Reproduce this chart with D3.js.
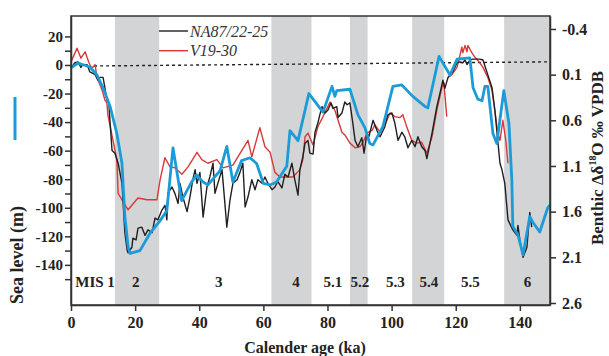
<!DOCTYPE html>
<html>
<head>
<meta charset="utf-8">
<script src="https://cdn.jsdelivr.net/npm/d3@7/dist/d3.min.js"></script>
<style>
  html, body { margin: 0; padding: 0; background: #fff; }
  svg { display: block; font-family: "Liberation Serif", "Times New Roman", serif; }
</style>
</head>
<body>
<svg id="chart" width="609" height="356"></svg>
<script>
// Glacial stages (ka) shaded in grey
const bands = [[13.7, 27.5], [62.5, 75], [87, 92.5], [106.4, 116.4], [135.1, 149.4]];

// Stage labels [age, text]
const stageLabels = [
  [7.5, "MIS 1"], [20.2, "2"], [46.1, "3"], [70.2, "4"], [81.7, "5.1"],
  [90.1, "5.2"], [101.2, "5.3"], [111.6, "5.4"], [124.6, "5.5"], [142.4, "6"]
];

// Sea level curve (m) [age ka, sea level]
const seaLevel = [
  [0, -2], [2.2, 1.4], [5.9, -1.4], [8.1, -7], [10.0, -16], [12.2, -29], [14.3, -48],
  [15.9, -69], [16.8, -106], [17.8, -127], [18.4, -132], [21.5, -130], [24.6, -118],
  [27.8, -109], [29.9, -102], [31.8, -58], [34.5, -95], [37.6, -82], [39.2, -77],
  [41.2, -82], [42.7, -84], [46.5, -74], [48.6, -57], [50.5, -82], [53.2, -67],
  [55.8, -65], [57.9, -69], [60.0, -83], [62.1, -84], [64.1, -82], [67.3, -71],
  [68.3, -46], [70.8, -53], [74.2, -20], [78.6, -33], [81.4, -15], [82.3, -22],
  [82.9, -18], [87.0, -17], [89.5, -35], [91.7, -44], [93.2, -55], [94.2, -56],
  [97.3, -43], [100.4, -15], [103.2, -14], [106.6, -22], [110.4, -29], [111.3, -30],
  [114.8, 6], [118.2, -7], [120.4, 4], [124.4, 5], [125.4, -16], [126.9, -24],
  [128.2, -25], [129.1, -15], [130.0, -15], [131.6, -48], [132.8, -55], [135.0, -18],
  [136.6, -41], [137.5, -81], [137.8, -113], [139.4, -119], [141.0, -133], [143.1, -106],
  [144.0, -110], [146.2, -117], [148.7, -100], [149.4, -98]
];

// NA87/22-25 benthic d18O anomaly [age ka, permil]
const na87 = [
  [0, 0.03], [1.2, -0.03], [2.2, -0.04], [3.1, 0.02], [3.7, -0.01], [5.0, -0.01],
  [5.9, 0.07], [7.5, 0.10], [8.4, 0.16], [9.0, 0.13], [10.0, 0.13], [10.6, 0.25],
  [11.2, 0.38], [11.8, 0.41], [12.2, 0.63], [12.8, 0.93], [13.7, 0.96], [14.7, 1.07],
  [15.9, 1.29], [16.8, 1.83], [17.5, 2.02], [17.8, 2.05], [19.0, 1.99], [19.3, 1.89],
  [20.3, 1.91], [20.9, 1.78], [22.1, 1.77], [23.1, 1.86], [24.0, 1.80], [25.3, 1.83],
  [26.2, 1.67], [27.1, 1.69], [28.4, 1.58], [29.3, 1.53], [29.9, 1.69], [30.2, 1.40],
  [31.5, 1.33], [32.4, 1.40], [33.4, 1.51], [34.0, 1.29], [34.9, 1.44], [36.2, 1.60],
  [37.1, 1.44], [38.0, 1.25], [38.7, 1.14], [39.3, 1.29], [40.2, 1.17], [41.2, 1.66],
  [42.4, 1.33], [43.3, 1.22], [44.3, 1.07], [44.9, 1.40], [45.8, 1.29], [47.1, 1.14],
  [48.0, 1.51], [48.6, 1.77], [49.6, 1.47], [50.5, 1.29], [51.8, 1.25], [52.7, 1.17],
  [53.6, 1.07], [54.3, 1.55], [55.2, 1.44], [56.4, 1.25], [57.4, 1.36], [58.3, 1.25],
  [59.6, 1.29], [60.5, 1.22], [61.4, 1.29], [62.7, 1.36], [63.6, 1.33], [64.5, 1.27],
  [65.8, 1.34], [66.7, 1.19], [67.7, 1.22], [68.9, 1.07], [69.8, 1.25], [70.8, 1.42],
  [71.4, 1.14], [72.3, 1.00], [73.0, 0.85], [73.9, 0.82], [74.5, 0.96], [75.5, 0.97],
  [76.1, 0.73], [77.0, 0.63], [77.6, 0.54], [78.3, 0.45], [79.2, 0.52], [80.1, 0.49],
  [81.1, 0.41], [81.7, 0.47], [82.9, 0.45], [83.3, 0.57], [84.5, 0.52], [85.4, 0.40],
  [86.1, 0.43], [87.0, 0.41], [87.9, 0.63], [88.6, 0.82], [89.5, 0.89], [90.7, 0.79],
  [91.4, 0.96], [92.3, 0.74], [92.9, 0.78], [94.2, 0.60], [95.4, 0.71], [96.4, 0.78],
  [97.9, 0.67], [98.8, 0.54], [100.1, 0.52], [101.0, 0.63], [102.0, 0.82], [103.2, 0.73],
  [104.1, 0.78], [105.1, 0.90], [106.3, 0.82], [107.3, 0.89], [108.2, 0.78], [109.4, 0.89],
  [110.4, 0.93], [111.0, 1.02], [112.6, 0.74], [114.1, 0.45], [115.1, 0.30], [116.0, 0.16],
  [116.6, 0.25], [117.6, 0.13], [119.1, 0.07], [120.4, -0.03], [121.3, -0.04], [122.2, -0.03],
  [122.9, -0.06], [123.5, -0.01], [124.4, -0.06], [125.4, -0.07], [127.5, -0.07], [128.5, -0.06],
  [129.7, 0.07], [131.3, 0.24], [132.2, 0.49], [133.1, 0.82], [133.8, 1.07], [134.4, 1.14],
  [135.3, 1.29], [136.3, 1.69], [137.8, 1.80], [139.1, 1.86], [139.4, 1.75], [140.0, 1.91],
  [141.0, 2.10], [142.2, 1.99], [143.1, 1.61], [143.7, 1.77]
];

// V19-30 benthic d18O anomaly [age ka, permil]; null = gap in record
const v1930 = [
  [0, -0.04], [1.9, -0.19], [3.1, -0.08], [4.4, -0.15], [5.6, -0.03], [6.5, 0.03],
  [7.5, -0.01], [8.1, 0.13], [9.7, 0.27], [10.6, 0.38], [11.2, 0.41], [11.5, 0.54],
  [13.1, 0.82], [14.3, 1.03], [14.7, 1.40], [17.8, 1.58], [20.9, 1.45], [23.7, 1.47],
  [26.8, 1.47], [27.8, 1.25], [29.3, 1.01], [30.9, 1.11], [32.4, 1.12], [34.6, 1.19],
  [36.5, 1.11], [39.3, 0.95], [40.8, 1.03], [42.7, 1.07], [45.5, 1.03], [47.4, 1.12],
  [50.5, 1.09], [53.3, 0.93], [55.2, 0.82], [56.4, 1.00], [58.9, 0.68], [60.5, 0.89],
  [62.1, 0.95], [63.6, 1.17], [65.2, 1.22], [69.2, 1.22], [71.4, 1.14], [72.3, 1.03],
  [73.0, 0.78], [73.9, 0.74], [75.5, 0.87], [77.0, 0.67], [78.6, 0.56], [80.8, 0.40],
  [82.3, 0.49], [83.3, 0.60], [84.5, 0.73], [85.4, 0.76], [87.0, 0.85], [88.6, 0.90],
  [90.1, 0.89], [91.1, 0.84], [92.3, 0.74], [93.9, 0.71], [94.8, 0.65], [96.4, 0.73],
  [97.9, 0.65], [99.5, 0.52], [101.0, 0.56], [102.6, 0.57], [103.5, 0.54], [104.8, 0.68],
  [106.3, 0.82], [107.9, 0.85], [109.4, 0.84], [111.0, 0.96], [112.6, 0.78], [114.1, 0.49],
  [115.7, 0.24], [116.3, 0.19], [117.2, 0.56], [117.4, null],
  [117.6, 0.13], [118.8, 0.10], [120.4, 0.02], [121.3, -0.11], [121.9, -0.20], [122.2, -0.14],
  [122.9, -0.22], [123.5, -0.15], [123.8, -0.22], [125.0, -0.14], [126.0, -0.09], [127.5, -0.03],
  [128.5, 0.02], [130.0, 0.13], [131.3, 0.27], [132.2, 0.49], [133.1, 0.74], [133.8, 0.82],
  [134.7, 0.60], [135.6, 0.82], [136.3, 1.07]
];

// Present-day sea level reference (dotted)
const zeroLine = [[7.2, -0.7], [149.4, 2.2]];

const xTicks = [0, 20, 40, 60, 80, 100, 120, 140];
const slTicks = d3.range(-150, 21, 10);
const o18Ticks = [-0.4, 0.1, 0.6, 1.1, 1.6, 2.1, 2.6];

const svg = d3.select("#chart");
const plotL = 71, plotR = 550, plotT = 16, plotB = 305;

const x = d3.scaleLinear().domain([0, 149.4]).range([plotL, plotR]);
const ySL = d3.scaleLinear().domain([-168.1, 34.3]).range([plotB, plotT]);
const yO = d3.scaleLinear().domain([2.622, -0.542]).range([plotB, plotT]);

// shaded stages
svg.append("g").selectAll("rect").data(bands).join("rect")
  .attr("x", d => x(d[0]))
  .attr("width", d => x(d[1]) - x(d[0]))
  .attr("y", plotT)
  .attr("height", plotB - plotT)
  .attr("fill", "#d3d4d6");

// stage labels
svg.append("g").selectAll("text").data(stageLabels).join("text")
  .attr("x", d => x(d[0]))
  .attr("y", 287)
  .attr("text-anchor", "middle")
  .attr("font-size", 15)
  .attr("font-weight", "bold")
  .attr("fill", "#222")
  .text(d => d[1]);

// dotted zero line
svg.append("path")
  .datum(zeroLine)
  .attr("fill", "none")
  .attr("stroke", "#222")
  .attr("stroke-width", 1.4)
  .attr("stroke-dasharray", "3,3")
  .attr("d", d3.line().x(d => x(d[0])).y(d => ySL(d[1])));

const lineO = d3.line()
  .defined(d => d[1] !== null)
  .x(d => x(d[0]))
  .y(d => yO(d[1]));
const lineSL = d3.line().x(d => x(d[0])).y(d => ySL(d[1]));

svg.append("path").datum(v1930)
  .attr("fill", "none").attr("stroke", "#d8393b").attr("stroke-width", 1.4)
  .attr("stroke-linejoin", "round").attr("d", lineO);
svg.append("path").datum(na87)
  .attr("fill", "none").attr("stroke", "#231f20").attr("stroke-width", 1.4)
  .attr("stroke-linejoin", "round").attr("d", lineO);
svg.append("path").datum(seaLevel)
  .attr("fill", "none").attr("stroke", "#1b9bd7").attr("stroke-width", 2.8)
  .attr("stroke-linejoin", "round").attr("d", lineSL);

// frame
svg.append("rect")
  .attr("x", plotL).attr("y", plotT)
  .attr("width", plotR - plotL).attr("height", plotB - plotT)
  .attr("fill", "none").attr("stroke", "#333").attr("stroke-width", 1.5);

function styleAxis(g, size) {
  g.select(".domain").attr("stroke", "#333").attr("stroke-width", 1.5);
  g.selectAll(".tick line").attr("stroke", "#333").attr("stroke-width", 1.5);
  g.selectAll(".tick text")
    .attr("fill", "#222")
    .attr("font-size", size)
    .attr("font-weight", "bold")
    .attr("font-family", "Liberation Serif, Times New Roman, serif");
}

// axes
svg.append("g")
  .attr("transform", `translate(0,${plotB})`)
  .call(d3.axisBottom(x).tickValues(xTicks).tickSize(6).tickSizeOuter(0).tickPadding(6))
  .call(g => styleAxis(g, 16));

svg.append("g")
  .attr("transform", `translate(${plotL},0)`)
  .call(d3.axisLeft(ySL).tickValues(slTicks).tickSize(6).tickSizeOuter(0).tickPadding(2)
    .tickFormat(d => d % 20 === 0 ? String(d) : ""))
  .call(g => styleAxis(g, 15));

svg.append("g")
  .attr("transform", `translate(${plotR},0)`)
  .call(d3.axisRight(yO).tickValues(o18Ticks).tickSize(6).tickSizeOuter(0).tickPadding(6)
    .tickFormat(d => d.toFixed(1)))
  .call(g => styleAxis(g, 16));

// axis titles
svg.append("text")
  .attr("x", 305).attr("y", 353)
  .attr("text-anchor", "middle")
  .attr("font-size", 16).attr("font-weight", "bold").attr("fill", "#222")
  .text("Calender age (ka)");

svg.append("text")
  .attr("transform", "translate(23,255) rotate(-90)")
  .attr("text-anchor", "middle")
  .attr("font-size", 18).attr("font-weight", "bold").attr("fill", "#222")
  .text("Sea level (m)");

svg.append("line")
  .attr("x1", 15).attr("x2", 15).attr("y1", 97).attr("y2", 140)
  .attr("stroke", "#1b9bd7").attr("stroke-width", 3);

const rt = svg.append("text")
  .attr("transform", "translate(603,158) rotate(-90)")
  .attr("text-anchor", "middle")
  .attr("font-size", 17).attr("font-weight", "bold").attr("fill", "#222");
rt.append("tspan").text("Benthic Δδ");
rt.append("tspan").attr("font-size", 10).attr("dy", -7).text("18");
rt.append("tspan").attr("dy", 7).text("O ‰ VPDB");

// legend
const legend = [["NA87/22-25", "#231f20", 31], ["V19-30", "#d8393b", 50.7]];
const lg = svg.append("g");
legend.forEach(([name, col, ly]) => {
  lg.append("line").attr("x1", 159).attr("x2", 188).attr("y1", ly).attr("y2", ly)
    .attr("stroke", col).attr("stroke-width", 1.4);
  lg.append("text").attr("x", 190).attr("y", ly + 5.5)
    .attr("font-size", 16).attr("font-style", "italic").attr("fill", "#333")
    .text(name);
});
</script>
</body>
</html>
